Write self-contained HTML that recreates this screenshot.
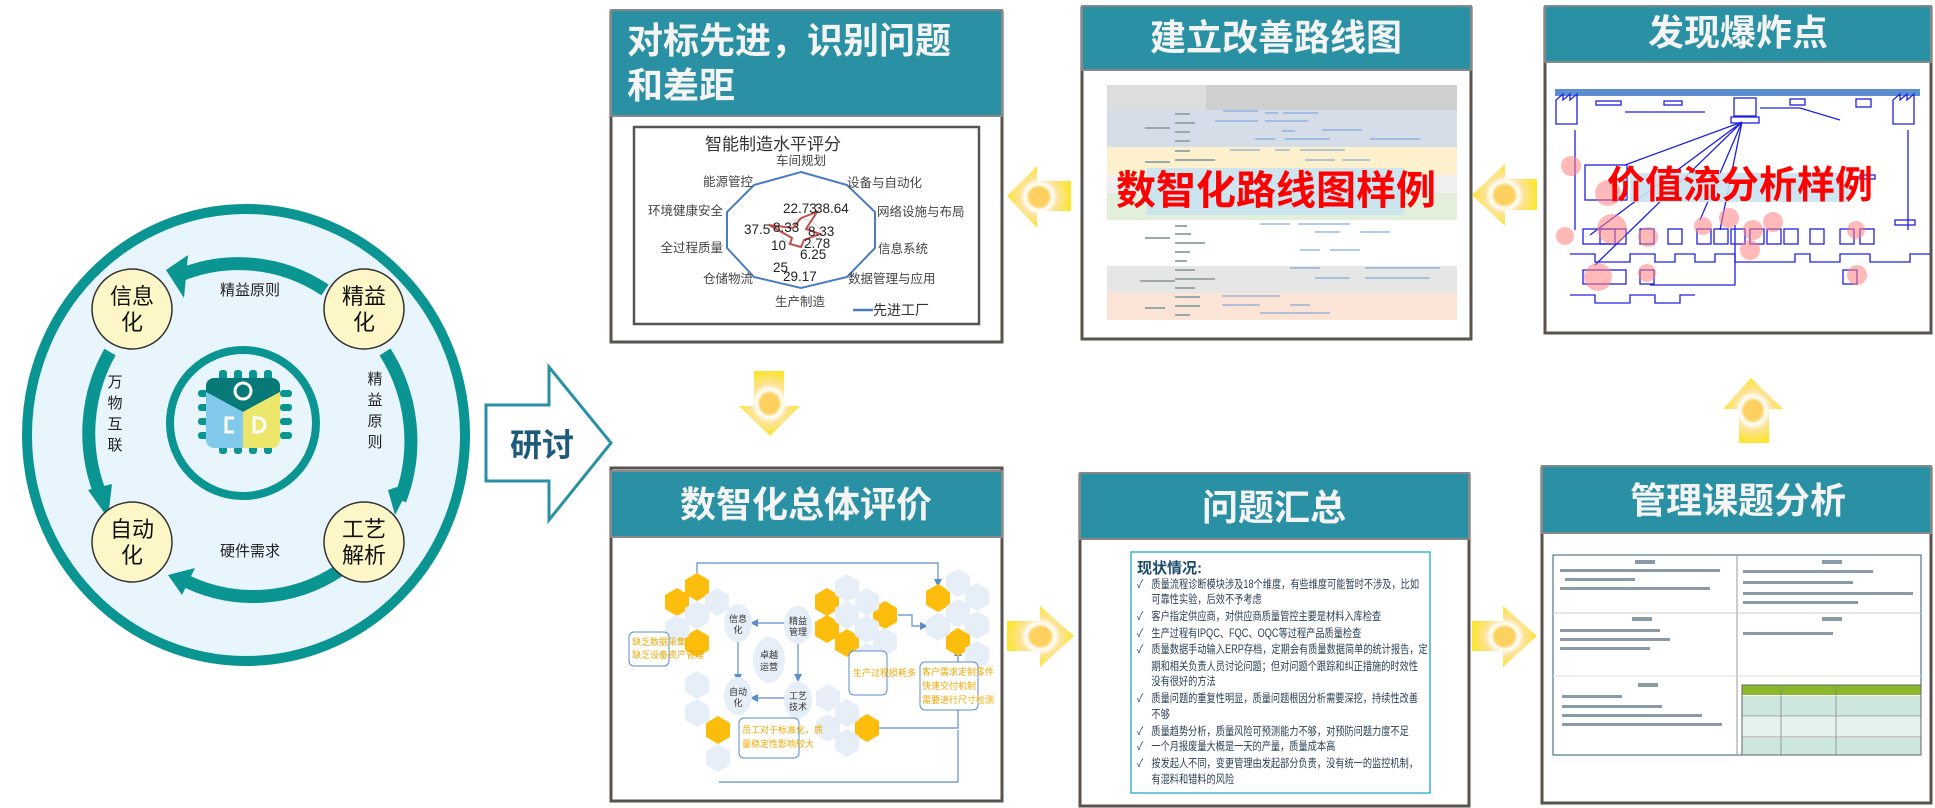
<!DOCTYPE html>
<html><head><meta charset="utf-8"><style>
html,body{margin:0;padding:0;background:#fff;}
svg{display:block;font-family:"Liberation Sans","Noto Sans CJK SC",sans-serif;}
.h{font-weight:bold;fill:#f4f4f4;font-size:36px;}
.ln{font-size:11.5px;fill:#2a3f55;}
.lb{font-size:12.5px;fill:#444;}
</style></head><body>
<svg width="1935" height="808" viewBox="0 0 1935 808" xmlns="http://www.w3.org/2000/svg">
<defs>
<radialGradient id="glow" cx="0.5" cy="0.5" r="0.5">
<stop offset="0" stop-color="#fdd160"/><stop offset="0.3" stop-color="#fdd160"/><stop offset="0.42" stop-color="#fff"/><stop offset="0.6" stop-color="#fde39a"/><stop offset="1" stop-color="#fde530"/>
</radialGradient>
<marker id="ah" markerWidth="8" markerHeight="8" refX="6" refY="4" orient="auto" markerUnits="userSpaceOnUse"><path d="M0,0 L8,4 L0,8z" fill="#5b8ec9"/></marker>
</defs>

<!-- LEFT CIRCLE -->
<ellipse cx="246" cy="435" rx="219" ry="226" fill="#e8f5fd" stroke="#0a9592" stroke-width="10"/>
<g fill="none" stroke="#0a9592" stroke-width="13">
<path d="M325,290 A158,162 0 0 0 178,276"/>
<path d="M385,352 A158,162 0 0 1 400,500"/>
<path d="M340,570 A158,162 0 0 1 180,578"/>
<path d="M110,352 A158,162 0 0 0 102,498"/>
</g>
<g fill="#0a9592">
<path d="M166,270 L188,255 L184,298z"/>
<path d="M388,490 L412,482 L395,515z"/>
<path d="M168,575 L195,568 L182,595z"/>
<path d="M88,490 L112,484 L108,518z"/>
</g>
<text x="250" y="295" font-size="15" text-anchor="middle" fill="#222">精益原则</text>
<text x="250" y="556" font-size="15" text-anchor="middle" fill="#222">硬件需求</text>
<g font-size="15" fill="#222" text-anchor="middle">
<text x="115" y="387">万</text><text x="115" y="408">物</text><text x="115" y="429">互</text><text x="115" y="450">联</text>
<text x="375" y="384">精</text><text x="375" y="405">益</text><text x="375" y="426">原</text><text x="375" y="447">则</text>
</g>
<g fill="#fdf7c8" stroke="#333" stroke-width="1.5">
<circle cx="132" cy="309" r="40"/><circle cx="364" cy="309" r="40"/>
<circle cx="132" cy="542" r="40"/><circle cx="364" cy="542" r="40"/>
</g>
<g font-size="22" fill="#111" text-anchor="middle">
<text x="132" y="304">信息</text><text x="132" y="330">化</text>
<text x="364" y="304">精益</text><text x="364" y="330">化</text>
<text x="132" y="537">自动</text><text x="132" y="563">化</text>
<text x="364" y="537">工艺</text><text x="364" y="563">解析</text>
</g>
<circle cx="243" cy="423" r="73" fill="#e8f5fd" stroke="#0a9592" stroke-width="8"/>
<g fill="#0a9592">
<rect x="219" y="370" width="8" height="12" rx="3"/><rect x="234" y="370" width="8" height="12" rx="3"/><rect x="249" y="370" width="8" height="12" rx="3"/><rect x="264" y="370" width="8" height="12" rx="3"/>
<rect x="219" y="442" width="8" height="12" rx="3"/><rect x="234" y="442" width="8" height="12" rx="3"/><rect x="249" y="442" width="8" height="12" rx="3"/><rect x="264" y="442" width="8" height="12" rx="3"/>
<rect x="198" y="390" width="12" height="7" rx="3"/><rect x="198" y="404" width="12" height="7" rx="3"/><rect x="198" y="418" width="12" height="7" rx="3"/><rect x="198" y="432" width="12" height="7" rx="3"/>
<rect x="280" y="390" width="12" height="7" rx="3"/><rect x="280" y="404" width="12" height="7" rx="3"/><rect x="280" y="418" width="12" height="7" rx="3"/><rect x="280" y="432" width="12" height="7" rx="3"/>
</g>
<path d="M214,378 h58 a8,8 0 0 1 8,8 v6 l-37,20 l-37,-20 v-6 a8,8 0 0 1 8,-8z" fill="#077a77"/>
<path d="M206,392 l37,20 v36 h-29 a8,8 0 0 1 -8,-8z" fill="#80c9ea"/>
<path d="M280,392 l-37,20 v36 h29 a8,8 0 0 0 8,-8z" fill="#ece66a"/>
<circle cx="243" cy="391" r="8" fill="none" stroke="#fff" stroke-width="3"/>
<path d="M234,418 h-8 v14 h8" fill="none" stroke="#fff" stroke-width="3"/>
<path d="M254,418 h4 a7,7 0 0 1 7,7 a7,7 0 0 1 -7,7 h-4z" fill="none" stroke="#fff" stroke-width="3"/>

<path d="M486,405 H549 V367 L611,443 L549,520 V481 H486z" fill="#fff" stroke="#2a91a4" stroke-width="3"/>
<text x="542" y="456" font-size="32" font-weight="bold" fill="#1e5b7a" text-anchor="middle">研讨</text>

<!-- P1 -->
<rect x="611" y="12" width="391" height="330" fill="#fff" stroke="#5a524e" stroke-width="3"/>
<rect x="611" y="10" width="391" height="106" fill="#2a91a4" stroke="#888" stroke-width="2"/>
<text x="627" y="53" class="h">对标先进，识别问题</text>
<text x="627" y="98" class="h">和差距</text>
<rect x="634" y="127" width="345" height="197" fill="#fff" stroke="#555" stroke-width="2.5"/>
<text x="705" y="150" font-size="17" fill="#333">智能制造水平评分</text>
<polygon points="801,172 847,185 875,212 875,248 847,277 801,288 754,277 727,248 727,212 754,185" fill="none" stroke="#4a7cc0" stroke-width="2"/>
<polygon points="801,218 813,222 820,229 820,237 813,244 801,247 789,244 782,237 782,229 789,222" fill="none" stroke="#d6d6d6" stroke-width="1"/>
<polyline points="801,218 817,212 806,229 820,234 804,240 801,247 790,244 792,238 769,225 793,228 801,218" fill="none" stroke="#c0504d" stroke-width="2"/>
<g class="lb">
<text x="801" y="165" text-anchor="middle">车间规划</text>
<text x="847" y="187">设备与自动化</text>
<text x="877" y="216">网络设施与布局</text>
<text x="878" y="253">信息系统</text>
<text x="848" y="283">数据管理与应用</text>
<text x="800" y="306" text-anchor="middle">生产制造</text>
<text x="753" y="283" text-anchor="end">仓储物流</text>
<text x="723" y="252" text-anchor="end">全过程质量</text>
<text x="723" y="215" text-anchor="end">环境健康安全</text>
<text x="753" y="186" text-anchor="end">能源管控</text>
</g>
<g font-size="13.5" fill="#222">
<text x="783" y="213">22.73</text><text x="815" y="213">38.64</text>
<text x="744" y="234">37.5</text><text x="773" y="232">8.33</text>
<text x="808" y="236">8.33</text><text x="804" y="248">2.78</text>
<text x="771" y="250">10</text><text x="800" y="259">6.25</text>
<text x="773" y="272">25</text><text x="783" y="281">29.17</text>
</g>
<line x1="853" y1="310" x2="873" y2="310" stroke="#4a7cc0" stroke-width="2.5"/>
<text x="873" y="315" font-size="14" fill="#333">先进工厂</text>

<!-- P2 -->
<rect x="1082" y="8" width="389" height="331" fill="#fff" stroke="#5a524e" stroke-width="3"/>
<rect x="1082" y="6" width="389" height="64" fill="#2a91a4" stroke="#888" stroke-width="2"/>
<text x="1276" y="50" class="h" text-anchor="middle">建立改善路线图</text>
<rect x="1107" y="85" width="99" height="25" fill="#ddd"/>
<rect x="1206" y="85" width="251" height="25" fill="#cfcfcf"/>
<rect x="1107" y="110" width="350" height="37" fill="#d5dde8"/>
<rect x="1107" y="147" width="350" height="28" fill="#fdf0cc"/>
<rect x="1107" y="175" width="350" height="18" fill="#efefef"/>
<rect x="1107" y="193" width="350" height="27" fill="#e2efda"/>
<rect x="1107" y="220" width="350" height="46" fill="#fff"/>
<rect x="1107" y="266" width="350" height="27" fill="#e6e6e6"/>
<rect x="1107" y="293" width="350" height="27" fill="#fce4d6"/>
<g stroke="#6a9ad8" stroke-width="1">
<line x1="1223" y1="111" x2="1258" y2="111"/><line x1="1265" y1="113" x2="1278" y2="113"/><line x1="1283" y1="113" x2="1318" y2="113"/>
<line x1="1215" y1="121" x2="1258" y2="121"/><line x1="1265" y1="121" x2="1308" y2="121"/>
<line x1="1282" y1="131" x2="1295" y2="131"/><line x1="1322" y1="130" x2="1362" y2="130"/>
<line x1="1255" y1="139" x2="1275" y2="139"/><line x1="1285" y1="139" x2="1330" y2="139"/><line x1="1370" y1="139" x2="1420" y2="139"/>
<line x1="1230" y1="150" x2="1260" y2="150"/><line x1="1275" y1="150" x2="1290" y2="150"/><line x1="1300" y1="150" x2="1345" y2="150"/>
<line x1="1305" y1="160" x2="1335" y2="160"/><line x1="1342" y1="160" x2="1370" y2="160"/>
<line x1="1260" y1="224" x2="1290" y2="224"/><line x1="1298" y1="224" x2="1350" y2="224"/>
<line x1="1315" y1="232" x2="1340" y2="232"/><line x1="1360" y1="232" x2="1390" y2="232"/>
<line x1="1300" y1="250" x2="1320" y2="250"/><line x1="1330" y1="250" x2="1360" y2="250"/>
<line x1="1290" y1="268" x2="1320" y2="268"/><line x1="1365" y1="268" x2="1440" y2="268"/>
<line x1="1315" y1="278" x2="1350" y2="278"/><line x1="1365" y1="278" x2="1430" y2="278"/>
<line x1="1222" y1="296" x2="1280" y2="296"/><line x1="1222" y1="305" x2="1260" y2="305"/><line x1="1290" y1="305" x2="1310" y2="305"/>
<line x1="1260" y1="313" x2="1330" y2="313"/>
</g>
<g fill="#9aa">
<rect x="1145" y="127" width="25" height="2"/><rect x="1145" y="161" width="25" height="2"/><rect x="1145" y="237" width="25" height="2"/><rect x="1140" y="280" width="35" height="2"/><rect x="1145" y="307" width="20" height="2"/>
<rect x="1175" y="113" width="15" height="2"/><rect x="1175" y="122" width="20" height="2"/><rect x="1175" y="131" width="15" height="2"/><rect x="1175" y="140" width="15" height="2"/><rect x="1175" y="150" width="15" height="2"/><rect x="1175" y="159" width="40" height="2"/>
<rect x="1175" y="225" width="12" height="2"/><rect x="1175" y="233" width="16" height="2"/><rect x="1175" y="242" width="30" height="2"/><rect x="1175" y="251" width="15" height="2"/><rect x="1175" y="260" width="12" height="2"/>
<rect x="1175" y="269" width="20" height="2"/><rect x="1175" y="278" width="40" height="2"/><rect x="1175" y="287" width="20" height="2"/><rect x="1175" y="296" width="25" height="2"/><rect x="1175" y="305" width="25" height="2"/><rect x="1175" y="314" width="15" height="2"/>
</g>
<rect x="1147" y="168" width="257" height="47" fill="#c9e3f1" opacity="0.9"/>
<text x="1276" y="204" font-size="40" font-weight="bold" fill="#f00" text-anchor="middle">数智化路线图样例</text>

<!-- P3 -->
<rect x="1545" y="8" width="386" height="325" fill="#fff" stroke="#5a524e" stroke-width="3"/>
<rect x="1545" y="6" width="386" height="56" fill="#2a91a4" stroke="#888" stroke-width="2"/>
<text x="1738" y="45" class="h" text-anchor="middle">发现爆炸点</text>
<rect x="1555" y="89" width="365" height="7" fill="#5b8fd0"/>
<g fill="none" stroke="#2020e0" stroke-width="1.3">
<path d="M1556,124 v-24 l7,-6 v6 l7,-6 v6 l7,-6 v30z"/><path d="M1893,124 v-24 l7,-6 v6 l7,-6 v6 l7,-6 v30z"/>
<rect x="1734" y="98" width="22" height="18"/><rect x="1731" y="117" width="28" height="6"/>
<path d="M1575,130 v100"/><path d="M1908,130 v100"/>
<rect x="1585" y="165" width="42" height="35"/><rect x="1583" y="229" width="43" height="15"/><rect x="1600" y="229" width="15" height="15"/>
<rect x="1640" y="229" width="14" height="15"/><rect x="1668" y="229" width="14" height="15"/><rect x="1697" y="229" width="14" height="15"/>
<rect x="1714" y="229" width="14" height="15"/><rect x="1731" y="229" width="14" height="15"/><rect x="1750" y="229" width="14" height="15"/><rect x="1767" y="229" width="14" height="15"/><rect x="1784" y="229" width="14" height="15"/><rect x="1810" y="229" width="14" height="15"/><rect x="1840" y="229" width="14" height="15"/><rect x="1860" y="229" width="14" height="15"/>
<path d="M1570,254 h25 v8 h35 v-8 h25 v8 h20 v-8 h20 v8 h20 v-8 h20 v8 h60 v-8 h15 v8 h30 v-8 h30 v8 h40 v-8 h20"/>
<path d="M1570,295 h25 v8 h35 v-8 h25 v8 h25 v-8 h15"/>
<rect x="1583" y="270" width="43" height="14"/><rect x="1640" y="270" width="14" height="14"/><rect x="1843" y="270" width="14" height="14"/>
<path d="M1742,122 L1625,165 M1742,122 L1595,265 M1742,122 L1700,220 M1742,122 L1720,230 M1742,122 L1590,235"/>
<path d="M1650,285 h85 v-60"/>
<path d="M1625,112 h80 M1760,108 h40 l40,12"/>
<rect x="1596" y="101" width="25" height="4"/><rect x="1664" y="101" width="18" height="4"/><rect x="1790" y="99" width="15" height="6"/><rect x="1856" y="99" width="15" height="8"/>
<rect x="1860" y="175" width="15" height="4"/><rect x="1895" y="220" width="20" height="5"/>
</g>
<g fill="#ff8080" opacity="0.55">
<circle cx="1571" cy="166" r="10"/><circle cx="1608" cy="193" r="13"/><circle cx="1612" cy="229" r="15"/><circle cx="1565" cy="236" r="9"/><circle cx="1648" cy="237" r="10"/>
<circle cx="1703" cy="226" r="9"/><circle cx="1729" cy="218" r="10"/><circle cx="1753" cy="230" r="10"/><circle cx="1773" cy="222" r="10"/><circle cx="1750" cy="250" r="10"/>
<circle cx="1856" cy="230" r="9"/><circle cx="1598" cy="277" r="14"/><circle cx="1647" cy="273" r="9"/><circle cx="1857" cy="275" r="10"/>
</g>
<rect x="1630" y="173" width="220" height="29" fill="#c9e3f1" opacity="0.9"/>
<text x="1740" y="198" font-size="38" font-weight="bold" fill="#f00" text-anchor="middle">价值流分析样例</text>

<!-- P4 -->
<rect x="611" y="468" width="391" height="333" fill="#fff" stroke="#5a524e" stroke-width="3"/>
<rect x="611" y="471" width="391" height="66" fill="#2a91a4" stroke="#888" stroke-width="2"/>
<text x="806" y="517" class="h" text-anchor="middle">数智化总体评价</text>
<g fill="none" stroke="#5b8ec9" stroke-width="1.2">
<path d="M697,575 V563 H938 V585" marker-end="url(#ah)"/>
<path d="M795,623 H752" marker-end="url(#ah)"/>
<path d="M738,640 V680" marker-end="url(#ah)"/>
<path d="M798,640 V680" marker-end="url(#ah)"/>
<path d="M795,698 H752" marker-end="url(#ah)"/>
<path d="M898,615 H912 V626 H926" marker-end="url(#ah)"/>
<path d="M878,728 H958 V650" marker-end="url(#ah)"/>
<path d="M719,782 H958 V730"/>
</g>
<g fill="#fcbd0d">
<polygon points="697,573 709,580 709,594 697,601 685,594 685,580"/>
<polygon points="677,588 689,595 689,609 677,616 665,609 665,595"/>
<polygon points="697,629 709,636 709,650 697,657 685,650 685,636"/>
<polygon points="827,588 839,595 839,609 827,616 815,609 815,595"/>
<polygon points="827,615 839,622 839,636 827,643 815,636 815,622"/>
<polygon points="847,629 859,636 859,650 847,657 835,650 835,636"/>
<polygon points="885,601 897,608 897,622 885,629 873,622 873,608"/>
<polygon points="938,584 950,591 950,605 938,612 926,605 926,591"/>
<polygon points="958,628 970,635 970,649 958,656 946,649 946,635"/>
<polygon points="718,716 730,723 730,737 718,744 706,737 706,723"/>
<polygon points="867,714 879,721 879,735 867,742 855,735 855,721"/>
</g>
<g fill="#e6eef8">
<polygon points="717,588 729,595 729,609 717,616 705,609 705,595"/>
<polygon points="697,601 709,608 709,622 697,629 685,622 685,608"/>
<polygon points="677,615 689,622 689,636 677,643 665,636 665,622"/>
<polygon points="847,574 859,581 859,595 847,602 835,595 835,581"/>
<polygon points="847,601 859,608 859,622 847,629 835,622 835,608"/>
<polygon points="867,588 879,595 879,609 867,616 855,609 855,595"/>
<polygon points="867,615 879,622 879,636 867,643 855,636 855,622"/>
<polygon points="885,628 897,635 897,649 885,656 873,649 873,635"/>
<polygon points="867,643 879,650 879,664 867,671 855,664 855,650"/>
<polygon points="958,569 970,576 970,590 958,597 946,590 946,576"/>
<polygon points="977,583 989,590 989,604 977,611 965,604 965,590"/>
<polygon points="938,613 950,620 950,634 938,641 926,634 926,620"/>
<polygon points="958,599 970,606 970,620 958,627 946,620 946,606"/>
<polygon points="977,611 989,618 989,632 977,639 965,632 965,618"/>
<polygon points="977,641 989,648 989,662 977,669 965,662 965,648"/>
<polygon points="697,671 709,678 709,692 697,699 685,692 685,678"/>
<polygon points="697,699 709,706 709,720 697,727 685,720 685,706"/>
<polygon points="718,744 730,751 730,765 718,772 706,765 706,751"/>
<polygon points="828,684 840,691 840,705 828,712 816,705 816,691"/>
<polygon points="828,714 840,721 840,735 828,742 816,735 816,721"/>
<polygon points="847,699 859,706 859,720 847,727 835,720 835,706"/>
<polygon points="847,729 859,736 859,750 847,757 835,750 835,736"/>
</g>
<g fill="#e6eef8">
<ellipse cx="738" cy="623" rx="14" ry="19"/><ellipse cx="798" cy="625" rx="14" ry="19"/>
<ellipse cx="769" cy="660" rx="16" ry="23"/><ellipse cx="738" cy="696" rx="14" ry="19"/><ellipse cx="798" cy="700" rx="14" ry="19"/>
</g>
<g font-size="9" fill="#333" text-anchor="middle">
<text x="738" y="622">信息</text><text x="738" y="633">化</text>
<text x="798" y="624">精益</text><text x="798" y="635">管理</text>
<text x="769" y="658">卓越</text><text x="769" y="670">运营</text>
<text x="738" y="695">自动</text><text x="738" y="706">化</text>
<text x="798" y="699">工艺</text><text x="798" y="710">技术</text>
</g>
<g fill="#fff" stroke="#5b8ec9" stroke-width="1">
<rect x="629" y="632" width="40" height="34" rx="5"/>
<rect x="849" y="651" width="38" height="44" rx="5"/>
<rect x="920" y="662" width="58" height="48" rx="5"/>
<rect x="739" y="718" width="60" height="40" rx="5"/>
</g>
<g font-size="9" fill="#f0a800">
<text x="632" y="645">缺乏数据采集</text><text x="632" y="658">缺乏设备资产管理</text>
<text x="853" y="676">生产过程损耗多</text>
<text x="922" y="675">客户需求定制零件</text><text x="922" y="689">快速交付机制</text><text x="922" y="703">需要进行尺寸检测</text>
<text x="742" y="733">员工对于标准化，质</text><text x="742" y="747">量稳定性影响较大</text>
</g>

<!-- P5 -->
<rect x="1080" y="475" width="389" height="331" fill="#fff" stroke="#5a524e" stroke-width="3"/>
<rect x="1080" y="473" width="389" height="66" fill="#2a91a4" stroke="#888" stroke-width="2"/>
<text x="1274" y="520" class="h" text-anchor="middle">问题汇总</text>
<rect x="1131" y="552" width="299" height="241" fill="#fff" stroke="#3bb4d2" stroke-width="1.5"/>
<text x="1137" y="573" font-size="15" font-weight="bold" fill="#1a4a6a">现状情况:</text>
<g class="ln" transform="translate(1137,0) scale(0.8,1)">
<text x="0" y="588">✓</text><text x="18" y="588">质量流程诊断模块涉及18个维度，有些维度可能暂时不涉及，比如</text>
<text x="18" y="603">可靠性实验，后效不予考虑</text>
<text x="0" y="620">✓</text><text x="18" y="620">客户指定供应商，对供应商质量管控主要是材料入库检查</text>
<text x="0" y="637">✓</text><text x="18" y="637">生产过程有IPQC、FQC、OQC等过程产品质量检查</text>
<text x="0" y="653">✓</text><text x="18" y="653">质量数据手动输入ERP存档，定期会有质量数据简单的统计报告，定</text>
<text x="18" y="670">期和相关负责人员讨论问题；但对问题个跟踪和纠正措施的时效性</text>
<text x="18" y="685">没有很好的方法</text>
<text x="0" y="702">✓</text><text x="18" y="702">质量问题的重复性明显，质量问题根因分析需要深挖，持续性改善</text>
<text x="18" y="718">不够</text>
<text x="0" y="735">✓</text><text x="18" y="735">质量趋势分析，质量风险可预测能力不够，对预防问题力度不足</text>
<text x="0" y="750">✓</text><text x="18" y="750">一个月报废量大概是一天的产量，质量成本高</text>
<text x="0" y="767">✓</text><text x="18" y="767">按发起人不同，变更管理由发起部分负责，没有统一的监控机制，</text>
<text x="18" y="783">有混料和错料的风险</text>
</g>

<!-- P6 -->
<rect x="1542" y="468" width="389" height="335" fill="#fff" stroke="#5a524e" stroke-width="3"/>
<rect x="1542" y="466" width="389" height="67" fill="#2a91a4" stroke="#888" stroke-width="2"/>
<text x="1738" y="513" class="h" text-anchor="middle">管理课题分析</text>
<rect x="1553" y="555" width="368" height="200" fill="#fff" stroke="#2b5f74" stroke-width="1"/>
<line x1="1737" y1="555" x2="1737" y2="755" stroke="#999"/>
<line x1="1553" y1="613" x2="1921" y2="613" stroke="#ccc"/>
<line x1="1553" y1="676" x2="1921" y2="676" stroke="#e0e0e0"/>
<g fill="#8a9aa8">
<rect x="1635" y="560" width="20" height="4"/><rect x="1822" y="560" width="20" height="4"/>
<rect x="1560" y="569" width="160" height="3"/><rect x="1565" y="578" width="70" height="3"/><rect x="1560" y="587" width="150" height="3"/>
<rect x="1743" y="570" width="130" height="3"/><rect x="1743" y="581" width="110" height="3"/><rect x="1743" y="592" width="170" height="3"/><rect x="1743" y="601" width="115" height="3"/>
<rect x="1632" y="617" width="20" height="4"/><rect x="1822" y="617" width="20" height="4"/>
<rect x="1560" y="629" width="100" height="3"/><rect x="1560" y="638" width="110" height="3"/><rect x="1560" y="647" width="90" height="3"/>
<rect x="1743" y="632" width="90" height="3"/>
<rect x="1638" y="683" width="20" height="4"/>
<rect x="1562" y="695" width="60" height="3"/><rect x="1562" y="705" width="100" height="3"/><rect x="1562" y="714" width="140" height="3"/><rect x="1562" y="723" width="160" height="3"/>
</g>
<rect x="1742" y="685" width="179" height="10" fill="#8db72a"/>
<g fill="#cde6de"><rect x="1742" y="696" width="179" height="20"/><rect x="1742" y="738" width="179" height="17"/></g>
<g fill="#e6f2ee"><rect x="1742" y="717" width="179" height="20"/></g>
<g stroke="#888" stroke-width="0.8"><line x1="1781" y1="685" x2="1781" y2="755"/><line x1="1836" y1="685" x2="1836" y2="755"/><line x1="1742" y1="716" x2="1921" y2="716"/><line x1="1742" y1="737" x2="1921" y2="737"/></g>
<rect x="1742" y="685" width="179" height="70" fill="none" stroke="#666"/>

<!-- yellow arrows -->
<path d="M1071,181 H1037 V166 L1007,196 L1037,228 V211 H1071z" fill="url(#glow)"/>
<path d="M1537,179 H1505 V164 L1472,195 L1505,226 V210 H1537z" fill="url(#glow)"/>
<path d="M754,371 H784 V406 H800 L770,436 L739,406 H754z" fill="url(#glow)"/>
<path d="M1739,443 H1769 V409 H1783 L1751,378 L1723,409 H1739z" fill="url(#glow)"/>
<path d="M1007,621 H1040 V606 L1074,636 L1040,667 V651 H1007z" fill="url(#glow)"/>
<path d="M1472,621 H1503 V606 L1537,636 L1503,667 V651 H1472z" fill="url(#glow)"/>
</svg>
</body></html>
